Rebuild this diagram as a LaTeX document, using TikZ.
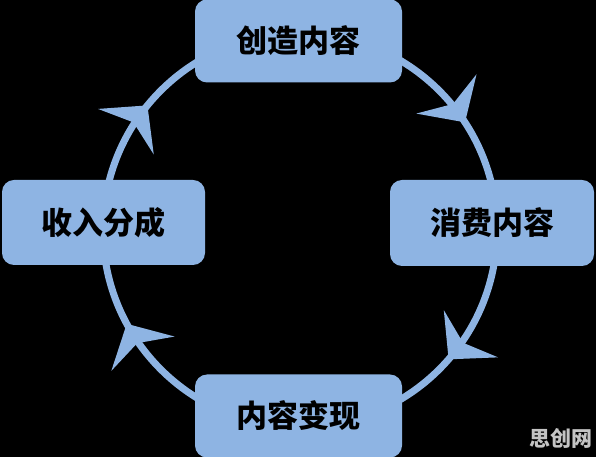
\documentclass[tikz,border=0pt]{standalone}
\usepackage{fontspec}
\newfontfamily\cjk{Noto Sans CJK SC}
\usetikzlibrary{arrows.meta, decorations.markings}
\definecolor{ringblue}{RGB}{142,180,227}
\definecolor{markgray}{RGB}{196,196,196}
\tikzstyle{box} = [rectangle, rounded corners=12pt, minimum width=207pt, minimum height=83pt, inner sep=0pt, text centered, fill=ringblue, text=black, font=\cjk\bfseries\fontsize{31}{34}\selectfont]
\tikzstyle{ring} = [draw=ringblue, line width=7pt]
\tikzset{flow/.style={postaction={decorate}, decoration={markings,
  mark=at position 0.158 with {\arrow{Stealth[length=34pt, width=72pt, inset=12pt, line width=0pt]}},
  mark=at position 0.364 with {\arrow{Stealth[length=34pt, width=72pt, inset=12pt, line width=0pt]}},
  mark=at position 0.671 with {\arrow{Stealth[length=34pt, width=72pt, inset=12pt, line width=0pt]}},
  mark=at position 0.859 with {\arrow{Stealth[length=34pt, width=72pt, inset=12pt, line width=0pt]}}}}}

\begin{document}
\begin{tikzpicture}[x=1pt, y=1pt]

\fill[black] (0,0) rectangle (596,457);
\useasboundingbox (0,0) rectangle (596,457);

% the cycle
\coordinate (hub) at (300,227);
\draw[ring, flow] (hub) ++(90:197pt) arc[start angle=90, end angle=-270, radius=197pt];

\node (create) [box] at (298.5,416) {创造内容};
\node (consume) [box, minimum width=204pt, minimum height=86pt] at (492,234) {消费内容};
\node (monetize) [box] at (298.5,41) {内容变现};
\node (share) [box, minimum width=203pt, minimum height=85pt] at (103.5,234.5) {收入分成};

\node (mark) at (561,19) [text=markgray, font=\cjk\bfseries\fontsize{21}{23}\selectfont] {思创网};

\end{tikzpicture}
\end{document}
